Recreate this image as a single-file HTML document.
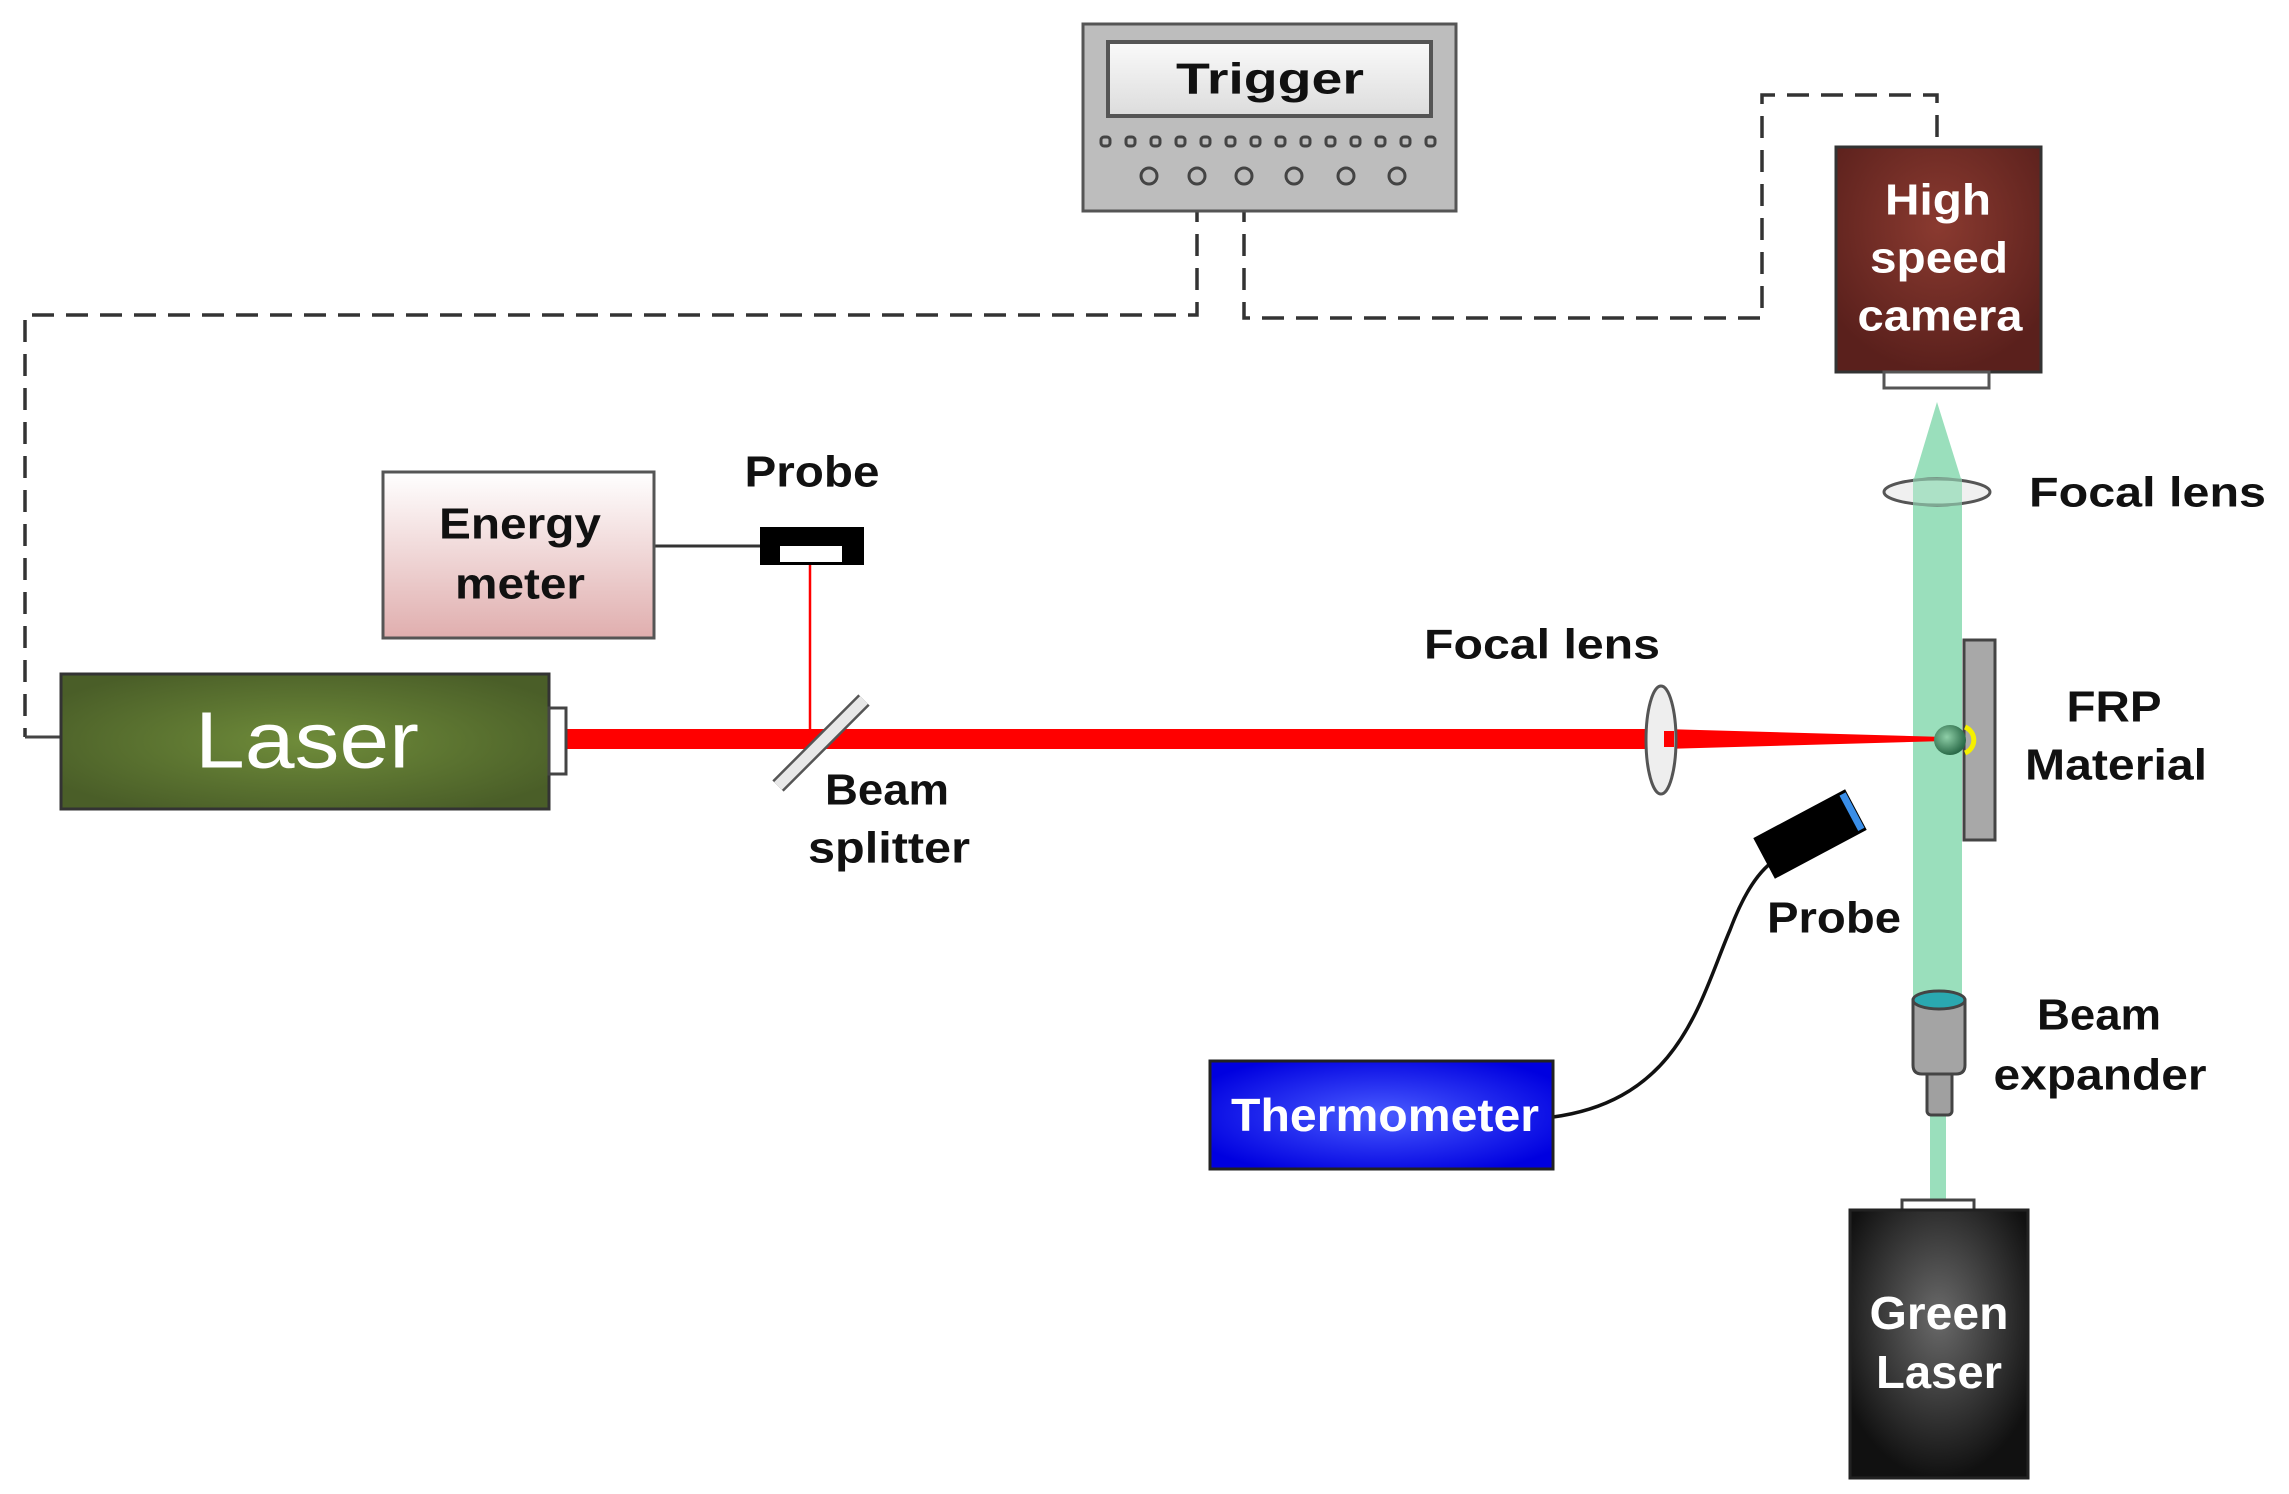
<!DOCTYPE html>
<html><head><meta charset="utf-8"><style>
html,body{margin:0;padding:0;background:#fff;}
svg{display:block;}
text{font-family:"Liberation Sans",sans-serif;font-weight:bold;}
</style></head><body>
<svg width="2289" height="1494" viewBox="0 0 2289 1494" xmlns="http://www.w3.org/2000/svg">
<defs>
<radialGradient id="lg" cx="50%" cy="50%" r="60%"><stop offset="0" stop-color="#6f8c3a"/><stop offset="1" stop-color="#4a5e28"/></radialGradient>
<radialGradient id="cg" cx="50%" cy="35%" r="65%"><stop offset="0" stop-color="#8a3a30"/><stop offset="1" stop-color="#5a201c"/></radialGradient>
<radialGradient id="tg" cx="50%" cy="50%" r="60%"><stop offset="0" stop-color="#4a5cff"/><stop offset="1" stop-color="#0000e0"/></radialGradient>
<radialGradient id="gg" cx="50%" cy="40%" r="60%"><stop offset="0" stop-color="#6a6a6a"/><stop offset="1" stop-color="#111"/></radialGradient>
<linearGradient id="eg" x1="0" y1="0" x2="0" y2="1"><stop offset="0" stop-color="#fff"/><stop offset="1" stop-color="#e0aeae"/></linearGradient>
<linearGradient id="dg" x1="0" y1="0" x2="0" y2="1"><stop offset="0" stop-color="#fafafa"/><stop offset="1" stop-color="#dcdcdc"/></linearGradient>
<radialGradient id="sg" cx="40%" cy="40%" r="60%"><stop offset="0" stop-color="#8fcfa8"/><stop offset="1" stop-color="#2a6a48"/></radialGradient>
</defs>

<!-- dashed trigger lines -->
<g fill="none" stroke="#333" stroke-width="3.5" stroke-dasharray="22,12">
<polyline points="1197,200 1197,315 25,315 25,737"/>
<polyline points="1244,200 1244,318 1762,318 1762,95 1937,95 1937,146"/>
</g>
<line x1="1197" y1="180" x2="1197" y2="212" stroke="#333" stroke-width="3"/>
<line x1="1244" y1="180" x2="1244" y2="212" stroke="#333" stroke-width="3"/>
<line x1="25" y1="737" x2="61" y2="737" stroke="#444" stroke-width="3"/>

<!-- Trigger -->
<rect x="1083" y="24" width="373" height="187" fill="#bdbdbd" stroke="#555" stroke-width="3"/>
<rect x="1108" y="42" width="323" height="74" fill="url(#dg)" stroke="#555" stroke-width="4"/>
<text x="1270" y="79" font-size="44" text-anchor="middle" dominant-baseline="central" textLength="188" lengthAdjust="spacingAndGlyphs" fill="#111">Trigger</text>
<g fill="none" stroke="#444" stroke-width="3">
<rect x="1101" y="137" width="9" height="9" rx="3"/><rect x="1126" y="137" width="9" height="9" rx="3"/><rect x="1151" y="137" width="9" height="9" rx="3"/><rect x="1176" y="137" width="9" height="9" rx="3"/><rect x="1201" y="137" width="9" height="9" rx="3"/><rect x="1226" y="137" width="9" height="9" rx="3"/><rect x="1251" y="137" width="9" height="9" rx="3"/><rect x="1276" y="137" width="9" height="9" rx="3"/><rect x="1301" y="137" width="9" height="9" rx="3"/><rect x="1326" y="137" width="9" height="9" rx="3"/><rect x="1351" y="137" width="9" height="9" rx="3"/><rect x="1376" y="137" width="9" height="9" rx="3"/><rect x="1401" y="137" width="9" height="9" rx="3"/><rect x="1426" y="137" width="9" height="9" rx="3"/>
<circle cx="1149" cy="176" r="8"/><circle cx="1197" cy="176" r="8"/><circle cx="1244" cy="176" r="8"/><circle cx="1294" cy="176" r="8"/><circle cx="1346" cy="176" r="8"/><circle cx="1397" cy="176" r="8"/>
</g>

<!-- Camera -->
<rect x="1836" y="147" width="205" height="225" fill="url(#cg)" stroke="#333" stroke-width="3"/>
<rect x="1884" y="372" width="105" height="16" fill="#fff" stroke="#555" stroke-width="3"/>
<g fill="#fff" font-size="44" text-anchor="middle" dominant-baseline="central">
<text x="1938" y="200" textLength="106" lengthAdjust="spacingAndGlyphs">High</text>
<text x="1939" y="258" textLength="138" lengthAdjust="spacingAndGlyphs">speed</text>
<text x="1940" y="316" textLength="165" lengthAdjust="spacingAndGlyphs">camera</text>
</g>

<!-- Green beam -->
<polygon points="1937,402 1913,482 1962,482" fill="#9adfbc"/>
<rect x="1913" y="482" width="49" height="515" fill="#9adfbc"/>
<rect x="1930" y="1110" width="16" height="95" fill="#9adfbc"/>
<ellipse cx="1937" cy="492" rx="53" ry="13" fill="#e6e6e6" fill-opacity="0.6" stroke="#555" stroke-width="3"/>
<rect x="1913" y="478" width="49" height="28" fill="#9adfbc" fill-opacity="0.6"/>
<text x="2029" y="492" font-size="42" dominant-baseline="central" textLength="237" lengthAdjust="spacingAndGlyphs" fill="#111">Focal lens</text>

<!-- FRP -->
<rect x="1964" y="640" width="31" height="200" fill="#a8a8a8" stroke="#444" stroke-width="3"/>
<text x="2114" y="707" font-size="44" text-anchor="middle" dominant-baseline="central" textLength="95" lengthAdjust="spacingAndGlyphs" fill="#111">FRP</text>
<text x="2116" y="765" font-size="44" text-anchor="middle" dominant-baseline="central" textLength="182" lengthAdjust="spacingAndGlyphs" fill="#111">Material</text>

<!-- Red beam -->
<rect x="566" y="729" width="1095" height="20" fill="#ff0000"/>
<polygon points="1664,729 1664,749 1945,741 1945,737" fill="#ff0000"/>
<ellipse cx="1661" cy="740" rx="15" ry="54" fill="#eee" stroke="#555" stroke-width="3"/>
<rect x="1664" y="731" width="10" height="16" fill="#ff0000"/>
<text x="1542" y="644" font-size="42" text-anchor="middle" dominant-baseline="central" textLength="236" lengthAdjust="spacingAndGlyphs" fill="#111">Focal lens</text>
<ellipse cx="1950" cy="740" rx="16" ry="15" fill="url(#sg)"/>
<path d="M1965,727 A14,14 0 0 1 1965,753" fill="none" stroke="#f5f000" stroke-width="5"/>

<!-- Laser -->
<rect x="61" y="674" width="488" height="135" fill="url(#lg)" stroke="#333" stroke-width="3"/>
<rect x="549" y="708" width="17" height="66" fill="#fff" stroke="#444" stroke-width="3"/>
<text x="307" y="740" font-size="80" font-weight="normal" text-anchor="middle" dominant-baseline="central" textLength="224" lengthAdjust="spacingAndGlyphs" fill="#fff" style="font-weight:normal">Laser</text>

<!-- Energy meter -->
<line x1="654" y1="546" x2="760" y2="546" stroke="#333" stroke-width="3"/>
<rect x="383" y="472" width="271" height="166" fill="url(#eg)" stroke="#555" stroke-width="3"/>
<text x="520" y="524" font-size="44" text-anchor="middle" dominant-baseline="central" textLength="162" lengthAdjust="spacingAndGlyphs" fill="#111">Energy</text>
<text x="520" y="584" font-size="44" text-anchor="middle" dominant-baseline="central" textLength="130" lengthAdjust="spacingAndGlyphs" fill="#111">meter</text>
<line x1="810" y1="565" x2="810" y2="731" stroke="#ff0000" stroke-width="2.5"/>
<rect x="760" y="527" width="104" height="38" fill="#000"/>
<rect x="780" y="546" width="62" height="16" fill="#fff"/>
<text x="812" y="472" font-size="44" text-anchor="middle" dominant-baseline="central" textLength="135" lengthAdjust="spacingAndGlyphs" fill="#111">Probe</text>

<!-- Beam splitter -->
<line x1="864" y1="700" x2="778" y2="786" stroke="#555" stroke-width="16" stroke-linecap="butt"/>
<line x1="864" y1="700" x2="778" y2="786" stroke="#e8e8e8" stroke-width="11"/>
<text x="887" y="790" font-size="44" text-anchor="middle" dominant-baseline="central" textLength="124" lengthAdjust="spacingAndGlyphs" fill="#111">Beam</text>
<text x="889" y="848" font-size="44" text-anchor="middle" dominant-baseline="central" textLength="162" lengthAdjust="spacingAndGlyphs" fill="#111">splitter</text>

<!-- Thermometer -->
<path d="M1553,1117 C1680,1100 1700,1000 1730,930 C1745,890 1760,870 1775,860" fill="none" stroke="#111" stroke-width="3.5"/>
<rect x="1210" y="1061" width="343" height="108" fill="url(#tg)" stroke="#222" stroke-width="3"/>
<text x="1385" y="1115" font-size="46" text-anchor="middle" dominant-baseline="central" textLength="308" lengthAdjust="spacingAndGlyphs" fill="#fff">Thermometer</text>
<g transform="translate(1810,834) rotate(-28)">
<rect x="-52" y="-23" width="104" height="46" fill="#000"/>
<rect x="44" y="-20" width="7" height="40" fill="#3a8ee8"/>
</g>
<text x="1834" y="918" font-size="44" text-anchor="middle" dominant-baseline="central" textLength="134" lengthAdjust="spacingAndGlyphs" fill="#111">Probe</text>

<!-- Beam expander -->
<rect x="1927" y="1070" width="25" height="45" rx="4" fill="#a0a0a0" stroke="#444" stroke-width="3"/>
<path d="M1913,1000 L1913,1065 Q1913,1074 1922,1074 L1956,1074 Q1965,1074 1965,1065 L1965,1000 Z" fill="#a4a4a4" stroke="#444" stroke-width="3"/>
<ellipse cx="1939" cy="1000" rx="26" ry="9" fill="#2aa8b0" stroke="#444" stroke-width="3"/>
<text x="2099" y="1015" font-size="44" text-anchor="middle" dominant-baseline="central" textLength="124" lengthAdjust="spacingAndGlyphs" fill="#111">Beam</text>
<text x="2100" y="1075" font-size="44" text-anchor="middle" dominant-baseline="central" textLength="213" lengthAdjust="spacingAndGlyphs" fill="#111">expander</text>

<!-- Green laser -->
<rect x="1902" y="1200" width="72" height="12" fill="#fff" stroke="#444" stroke-width="3"/>
<rect x="1850" y="1210" width="178" height="268" fill="url(#gg)" stroke="#222" stroke-width="3"/>
<text x="1939" y="1313" font-size="46" text-anchor="middle" dominant-baseline="central" textLength="139" lengthAdjust="spacingAndGlyphs" fill="#fff">Green</text>
<text x="1939" y="1372" font-size="46" text-anchor="middle" dominant-baseline="central" textLength="126" lengthAdjust="spacingAndGlyphs" fill="#fff">Laser</text>
</svg>
</body></html>
